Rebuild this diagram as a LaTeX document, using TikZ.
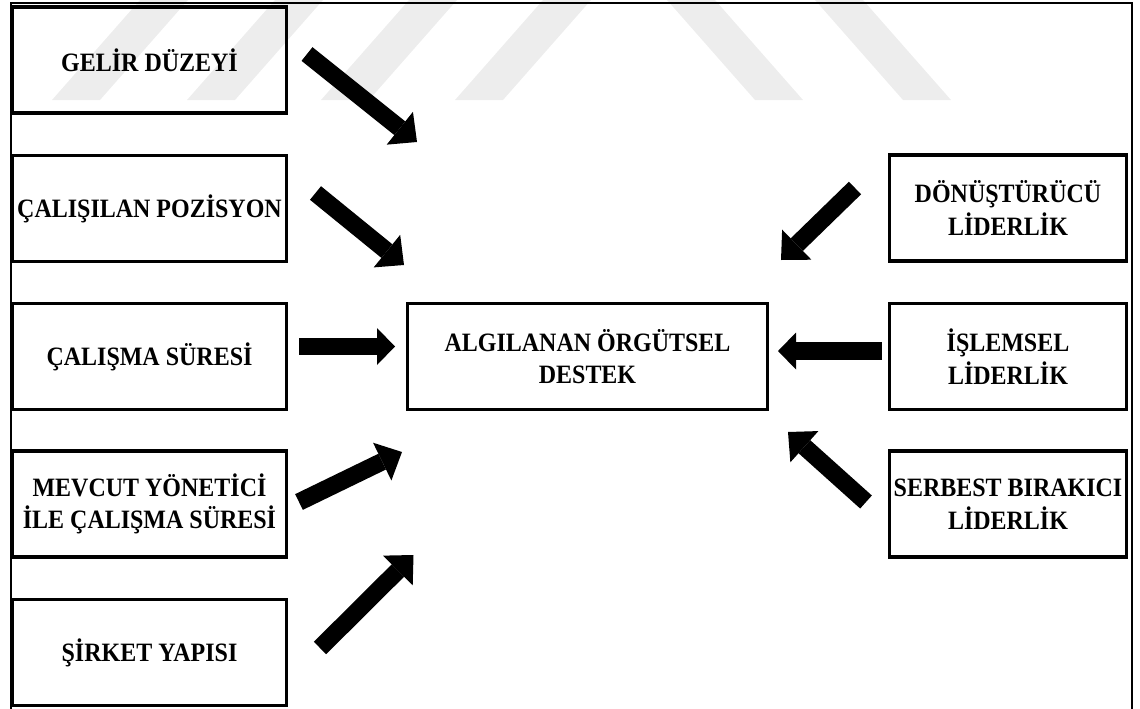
\documentclass[tikz,border=0pt]{standalone}
\usepackage{fontspec}
\setmainfont{Liberation Serif}[FakeStretch=0.905]
\usetikzlibrary{arrows.meta}
\begin{document}
\begin{tikzpicture}[x=1pt,y=-1pt,
  box/.style={draw=black, line width=3.2pt, inner sep=0pt, outer sep=0pt,
    minimum height=106pt, align=center,
    font=\bfseries\fontsize{26.5}{32.5}\selectfont},
  leftbox/.style={box, minimum width=274pt},
  rightbox/.style={box, minimum width=237pt},
  midbox/.style={box, minimum width=360pt},
  frame/.style={draw=black, line width=2.4pt},
  stripe/.style={fill=black!7, draw=none},
  flatarrow/.style={line width=17.5pt, -{Triangle[length=18pt,width=37pt,line width=0pt]}},
  slantarrow/.style={line width=17.5pt, -{Triangle[length=22pt,width=42pt,line width=0pt]}}]
\useasboundingbox (0,0) rectangle (1140,709);

% pale diagonal stripes along the top
\foreach \b in {52,187,321,455}
  \fill[stripe] (\b,100) -- ++(48,0) -- ++(88,-100) -- ++(-48,0) -- cycle;
\foreach \t in {667,815}
  \fill[stripe] (\t,0) -- ++(48,0) -- ++(88,100) -- ++(-48,0) -- cycle;

% outer frame (open at the bottom)
\draw[frame] (11,709) -- (11,3) -- (1132,3) -- (1132,709);

% factors on the left
\node[leftbox] (gelir)  at (149.5,60)    {GELİR DÜZEYİ};
\node[leftbox] (poz)    at (149.5,208.5) {ÇALIŞILAN POZİSYON};
\node[leftbox] (sure)   at (149.5,356.5) {ÇALIŞMA SÜRESİ};
\node[leftbox] (mevcut) at (149.5,504)   {MEVCUT YÖNETİCİ\\İLE ÇALIŞMA SÜRESİ};
\node[leftbox] (yapi)   at (149.5,652.5) {ŞİRKET YAPISI};

% central construct
\node[midbox] (destek) at (587.5,356.5) {ALGILANAN ÖRGÜTSEL\\DESTEK};

% leadership styles on the right
\node[rightbox] (donus)   at (1008,208)   {DÖNÜŞTÜRÜCÜ\\LİDERLİK};
\node[rightbox] (islem)   at (1008,356.5) {İŞLEMSEL\\LİDERLİK};
\node[rightbox] (serbest) at (1008,504)   {SERBEST BIRAKICI\\LİDERLİK};

% arrow end points
\coordinate (a1s) at (307,54);    \coordinate (a1e) at (417,142);
\coordinate (a2s) at (315.5,193); \coordinate (a2e) at (404,265);
\coordinate (a3s) at (299,346.5); \coordinate (a3e) at (395,346.5);
\coordinate (a4s) at (299,502);   \coordinate (a4e) at (402,452);
\coordinate (a5s) at (320,648);   \coordinate (a5e) at (413.5,555);
\coordinate (a6s) at (855,188);   \coordinate (a6e) at (781,260);
\coordinate (a7s) at (882,351);   \coordinate (a7e) at (778,351);
\coordinate (a8s) at (866,502);   \coordinate (a8e) at (788,432);

% block arrows pointing at the central construct
\draw[slantarrow] (a1s) -- (a1e);
\draw[slantarrow] (a2s) -- (a2e);
\draw[flatarrow]  (a3s) -- (a3e);
\draw[slantarrow] (a4s) -- (a4e);
\draw[slantarrow] (a5s) -- (a5e);
\draw[slantarrow] (a6s) -- (a6e);
\draw[flatarrow]  (a7s) -- (a7e);
\draw[slantarrow] (a8s) -- (a8e);
\end{tikzpicture}
\end{document}
